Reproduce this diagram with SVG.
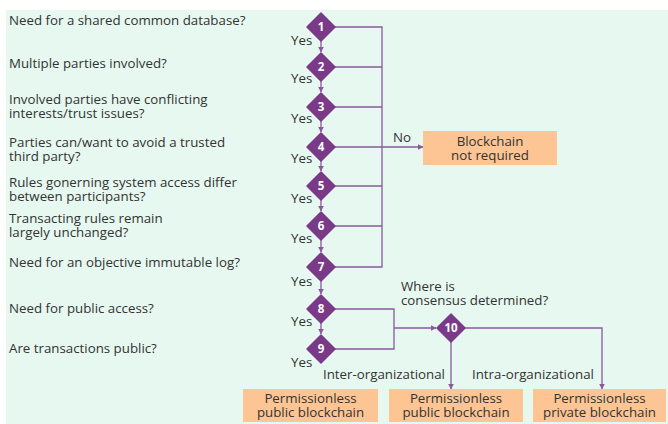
<svg xmlns="http://www.w3.org/2000/svg" width="668" height="424" viewBox="0 0 668 424">
<defs>
<marker id="ah" viewBox="0 0 10 10" refX="9" refY="5" markerWidth="6" markerHeight="6" markerUnits="userSpaceOnUse" orient="auto">
<path d="M0,0 L10,5 L0,10 z" fill="#8a5a9c"/>
</marker>
<style>
.q{font-family:"Open Sans","Noto Sans",sans-serif;font-size:13.3px;fill:#333}
.n{font-family:"Open Sans","Noto Sans",sans-serif;font-size:11.5px;font-weight:bold;fill:#fff;text-anchor:middle}
.bt{font-family:"Open Sans","Noto Sans",sans-serif;font-size:13.3px;fill:#333;text-anchor:middle}
.d{fill:#7a3a88;stroke:#7a3a88;stroke-width:1.5;stroke-linejoin:round}
.b{fill:#fcc593}
.c{fill:none;stroke:#8a5a9c;stroke-width:1.3}
</style>
</defs>
<rect x="6" y="10" width="662" height="414" fill="#e6f8f0"/>
<g id="labels">
<text class="q" x="9" y="25">Need for a shared common database?</text>
<text class="q" x="9" y="68">Multiple parties involved?</text>
<text class="q" x="9" y="103.5">Involved parties have conflicting<tspan x="9" y="117.5">interests/trust issues?</tspan></text>
<text class="q" x="9" y="146.5">Parties can/want to avoid a trusted<tspan x="9" y="160.5">third party?</tspan></text>
<text class="q" x="9" y="186.5">Rules gonerning system access differ<tspan x="9" y="200.5">between participants?</tspan></text>
<text class="q" x="9" y="222.5">Transacting rules remain<tspan x="9" y="236.5">largely unchanged?</tspan></text>
<text class="q" x="9" y="267">Need for an objective immutable log?</text>
<text class="q" x="9" y="313">Need for public access?</text>
<text class="q" x="9" y="353">Are transactions public?</text>
<text class="q" x="291" y="45">Yes</text>
<text class="q" x="291" y="83">Yes</text>
<text class="q" x="291" y="123">Yes</text>
<text class="q" x="291" y="163">Yes</text>
<text class="q" x="291" y="203">Yes</text>
<text class="q" x="291" y="243">Yes</text>
<text class="q" x="291" y="286">Yes</text>
<text class="q" x="291" y="326">Yes</text>
<text class="q" x="291" y="367">Yes</text>
<text class="q" x="393" y="142">No</text>
<text class="q" x="401" y="290.5">Where is<tspan x="401" y="304.5">consensus determined?</tspan></text>
<text class="q" x="323" y="379">Inter-organizational</text>
<text class="q" x="472" y="379">Intra-organizational</text>
</g>
<g id="connectors">
<path class="c" d="M321,41 V52" marker-end="url(#ah)"/>
<path class="c" d="M321,81 V92" marker-end="url(#ah)"/>
<path class="c" d="M321,121 V132" marker-end="url(#ah)"/>
<path class="c" d="M321,161 V171" marker-end="url(#ah)"/>
<path class="c" d="M321,200 V211" marker-end="url(#ah)"/>
<path class="c" d="M321,240 V252" marker-end="url(#ah)"/>
<path class="c" d="M321,281 V294" marker-end="url(#ah)"/>
<path class="c" d="M321,323 V334" marker-end="url(#ah)"/>
<path class="c" d="M335,27 H382 V267 H335"/>
<path class="c" d="M335,67 H382"/>
<path class="c" d="M335,107 H382"/>
<path class="c" d="M335,186 H382"/>
<path class="c" d="M335,226 H382"/>
<path class="c" d="M335,147 H423" marker-end="url(#ah)"/>
<path class="c" d="M335,309 H394 V349 H335"/>
<path class="c" d="M394,328 H436" marker-end="url(#ah)"/>
<path class="c" d="M451,342 V389" marker-end="url(#ah)"/>
<path class="c" d="M465,328 H602 V389" marker-end="url(#ah)"/>
</g>
<g id="n1"><path class="d" d="M321,13 L335,27 L321,41 L307,27 z"/><text class="n" x="321" y="31">1</text></g>
<g id="n2"><path class="d" d="M321,53 L335,67 L321,81 L307,67 z"/><text class="n" x="321" y="71">2</text></g>
<g id="n3"><path class="d" d="M321,93 L335,107 L321,121 L307,107 z"/><text class="n" x="321" y="111">3</text></g>
<g id="n4"><path class="d" d="M321,133 L335,147 L321,161 L307,147 z"/><text class="n" x="321" y="151">4</text></g>
<g id="n5"><path class="d" d="M321,172 L335,186 L321,200 L307,186 z"/><text class="n" x="321" y="190">5</text></g>
<g id="n6"><path class="d" d="M321,212 L335,226 L321,240 L307,226 z"/><text class="n" x="321" y="230">6</text></g>
<g id="n7"><path class="d" d="M321,253 L335,267 L321,281 L307,267 z"/><text class="n" x="321" y="271">7</text></g>
<g id="n8"><path class="d" d="M321,295 L335,309 L321,323 L307,309 z"/><text class="n" x="321" y="313">8</text></g>
<g id="n9"><path class="d" d="M321,335 L335,349 L321,363 L307,349 z"/><text class="n" x="321" y="353">9</text></g>
<g id="n10"><path class="d" d="M451,314 L465,328 L451,342 L437,328 z"/><text class="n" x="451" y="332">10</text></g>
<g id="notreq"><rect class="b" x="423" y="131" width="134" height="34"/><text class="bt" x="490" y="145.5">Blockchain<tspan x="490" y="159.5">not required</tspan></text></g>
<g id="pub1"><rect class="b" x="243" y="389" width="135" height="33"/><text class="bt" x="310.5" y="402.5">Permissionless<tspan x="310.5" y="416.5">public blockchain</tspan></text></g>
<g id="pub2"><rect class="b" x="389" y="389" width="134" height="33"/><text class="bt" x="456" y="402.5">Permissionless<tspan x="456" y="416.5">public blockchain</tspan></text></g>
<g id="priv"><rect class="b" x="533" y="389" width="133" height="33"/><text class="bt" x="599.5" y="402.5">Permissionless<tspan x="599.5" y="416.5">private blockchain</tspan></text></g>
</svg>
